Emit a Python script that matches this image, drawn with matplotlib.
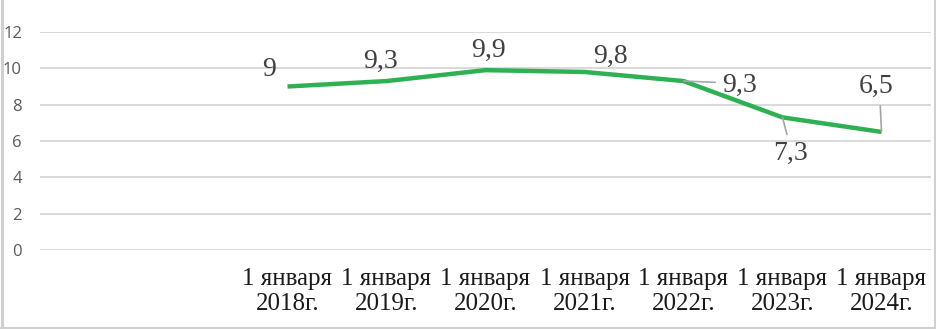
import matplotlib.pyplot as plt
from matplotlib.lines import Line2D

# data (two leading empty categories, as in the Excel original)
categories = ["", "", "1 января\n2018г.", "1 января\n2019г.", "1 января\n2020г.",
              "1 января\n2021г.", "1 января\n2022г.", "1 января\n2023г.", "1 января\n2024г."]
values = [9.0, 9.3, 9.9, 9.8, 9.3, 7.3, 6.5]
value_labels = ["9", "9,3", "9,9", "9,8", "9,3", "7,3", "6,5"]
yticks = [0, 2, 4, 6, 8, 10, 12]

W, H = 936, 329
fig = plt.figure(figsize=(W / 100, H / 100), dpi=100)
ax = fig.add_axes([40 / W, 1 - 250 / H, (931 - 40) / W, (250 - 32) / H])

xs = list(range(len(categories) - len(values), len(categories)))
ax.plot(xs, values, color="#2eb152", lw=3.2, solid_capstyle="butt", zorder=3)

ax.set_xlim(-0.5, len(categories) - 0.5)
ax.set_ylim(0, 12)
ax.set_yticks(yticks)
ax.set_yticklabels([str(t) for t in yticks], fontsize=12, color="#595959",
                   family="Open Sans")
ax.set_xticks(range(len(categories)))
ax.set_xticklabels(categories, fontsize=18, family="Liberation Serif",
                   linespacing=1.17, color="#1a1a1a")
ax.tick_params(axis="both", length=0)
ax.tick_params(axis="y", pad=13)
ax.tick_params(axis="x", pad=13)
ax.grid(axis="y", color="#d9d9d9", lw=1.4)
ax.set_axisbelow(True)
for s in ax.spines.values():
    s.set_visible(False)

# label offsets in pixels (dx, dy) and leader lines where Excel drew them
offsets = [(-18, 11), (-6, 13), (3, 13), (26, 9), (56, -11), (8, -43), (-5, 39)]
leaders = {4: (0.0, 0.62), 5: (0.45, 1.0), 6: (0.6, 0.0)}
for i, (x, v) in enumerate(zip(xs, values)):
    dx, dy = offsets[i]
    kw = {}
    if i in leaders:
        kw["arrowprops"] = dict(arrowstyle="-", color="#a6a6a6", lw=1.2,
                                shrinkA=3, shrinkB=0, relpos=leaders[i])
    ax.annotate(value_labels[i], xy=(x, v), xytext=(dx, dy),
                textcoords="offset pixels", ha="center", va="baseline",
                fontsize=20, family="Liberation Serif", color="#404040", **kw)

# light grey frame of the chart area
fc = "#d0d0d0"
fig.add_artist(Line2D([1.5 / W, 1.5 / W], [0, 1], color=fc, lw=2.2))
fig.add_artist(Line2D([934.5 / W, 934.5 / W], [0, 1], color=fc, lw=2.2))
fig.add_artist(Line2D([0, 1], [1.5 / H, 1.5 / H], color=fc, lw=2.2))

fig.savefig("out.png", dpi=100)
